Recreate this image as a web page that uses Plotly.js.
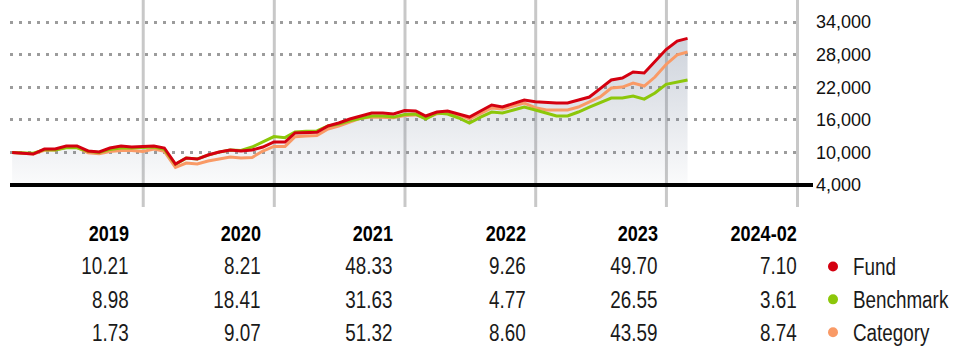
<!DOCTYPE html>
<html>
<head>
<meta charset="utf-8">
<script src="https://cdn.plot.ly/plotly-3.0.1.min.js"></script>
<style>
  html, body { margin: 0; padding: 0; background: #fff; }
  #chart { width: 953px; height: 354px; }
  /* emulate a narrow face (Arial Narrow-like) for the table and legend text */
  #chart .annotation-text, #chart .legendtext {
    transform-box: fill-box;
    transform: scaleX(0.82);
  }
  #chart .annotation-text { transform-origin: 100% 50%; }
  #chart .legendtext { transform-origin: 0% 50%; }
</style>
</head>
<body>
<div id="chart"></div>
<script>
// ---------- DATA ----------
const dates = [
  '2018-12-31',
  '2019-01-31','2019-02-28','2019-03-31','2019-04-30','2019-05-31','2019-06-30',
  '2019-07-31','2019-08-31','2019-09-30','2019-10-31','2019-11-30','2019-12-31',
  '2020-01-31','2020-02-29','2020-03-31','2020-04-30','2020-05-31','2020-06-30',
  '2020-07-31','2020-08-31','2020-09-30','2020-10-31','2020-11-30','2020-12-31',
  '2021-01-31','2021-02-28','2021-03-31','2021-04-30','2021-05-31','2021-06-30',
  '2021-07-31','2021-08-31','2021-09-30','2021-10-31','2021-11-30','2021-12-31',
  '2022-01-31','2022-02-28','2022-03-31','2022-04-30','2022-05-31','2022-06-30',
  '2022-07-31','2022-08-31','2022-09-30','2022-10-31','2022-11-30','2022-12-31',
  '2023-01-31','2023-02-28','2023-03-31','2023-04-30','2023-05-31','2023-06-30',
  '2023-07-31','2023-08-31','2023-09-30','2023-10-31','2023-11-30','2023-12-31',
  '2024-01-31','2024-02-29'
];

const fundGrowth = [
  10000,
  9890, 9700, 10620, 10620, 11180, 11180, 10260, 10070, 10810, 11180, 10990, 11021,
  11180, 10810, 7850, 8970, 8780, 9520, 10070, 10440, 10260, 10440, 10990, 11926,
  11910, 13570, 13570, 13700, 14860, 15410, 16140, 16700, 17250, 17250, 17060, 17690,
  17620, 16700, 17430, 17620, 17060, 16510, 17620, 18720, 18350, 19000, 19640, 19328,
  19180, 19090, 19090, 19640, 20190, 21750, 23320, 23690, 24790, 24610, 26820, 28934,
  30500, 30988
];

const benchmarkGrowth = [
  10000,
  9950, 9850, 10500, 10450, 10850, 10850, 10200, 10000, 10550, 10800, 10800, 10898,
  11000, 10550, 7800, 8950, 8800, 9500, 10050, 10450, 10350, 10990, 11900, 12904,
  12720, 13750, 13900, 13950, 14860, 15200, 15800, 16250, 16700, 16700, 16500, 16986,
  17050, 16140, 17250, 17060, 16330, 15410, 16500, 17430, 17250, 17800, 18360, 17796,
  17250, 16700, 16700, 17430, 18350, 19090, 20000, 20000, 20380, 19800, 20930, 22521,
  22950, 23334
];

const categoryGrowth = [
  10000,
  9850, 9700, 10400, 10450, 10950, 10900, 9950, 9750, 10150, 10350, 10350, 10173,
  10600, 10200, 7250, 8050, 7860, 8420, 8780, 9150, 8970, 9060, 10260, 11096,
  11100, 12900, 13000, 13100, 14300, 14860, 15600, 16300, 16500, 16500, 16400, 16790,
  16900, 16300, 17100, 17250, 16900, 16140, 17200, 18170, 18000, 18500, 19090, 18234,
  17800, 17800, 17800, 18350, 19270, 20200, 21840, 22030, 22770, 22210, 23870, 26182,
  27950, 28470
];

const yTickVals = [4000, 10000, 16000, 22000, 28000, 34000];
const yearLines = ['2020-01-01','2021-01-01','2022-01-01','2023-01-01','2024-01-01','2025-01-01'];

const periods = ['2019', '2020', '2021', '2022', '2023', '2024-02'];
const fundReturns = [10.21, 8.21, 48.33, 9.26, 49.70, 7.10];
const benchmarkReturns = [8.98, 18.41, 31.63, 4.77, 26.55, 3.61];
const categoryReturns = [1.73, 9.07, 51.32, 8.60, 43.59, 8.74];

const seriesNames = ['Fund', 'Benchmark', 'Category'];
const seriesColors = ['#d40010', '#8cc70a', '#f99a66'];

// ---------- LAYOUT HELPERS ----------
const W = 953, H = 354;
const M = { l: 10, r: 153, t: 0, b: 167, autoexpand: false };
const plotW = W - M.l - M.r;
const plotH = H - M.t - M.b;          // 187 px; value 4000 sits 2 px above the bottom
const pxPerUnit = 185 / (38050 - 4000);
const yMin = 4000 - 2 / pxPerUnit;
const px2x = px => (px - M.l) / plotW;
const py2y = py => (plotH - (py - M.t)) / plotH;

const textFont = "'Liberation Sans', Arial, sans-serif";

// ---------- TRACES ----------
const traces = [];

// gradient fill under fund line
traces.push({
  x: dates, y: fundGrowth, type: 'scatter', mode: 'lines',
  line: { width: 0, color: 'rgba(0,0,0,0)' },
  fill: 'tozeroy',
  fillgradient: {
    type: 'vertical', start: 4000, stop: 31000,
    colorscale: [[0, 'rgba(110,125,150,0.03)'], [1, 'rgba(110,125,150,0.34)']]
  },
  hoverinfo: 'skip', showlegend: false
});

const lineSeries = [categoryGrowth, benchmarkGrowth, fundGrowth];
const lineColors = [seriesColors[2], seriesColors[1], seriesColors[0]];
lineSeries.forEach((ys, k) => {
  traces.push({
    x: dates, y: ys, type: 'scatter', mode: 'lines',
    line: { color: lineColors[k], width: 3 },
    showlegend: false, hoverinfo: 'x+y'
  });
});

// legend entries (dots)
seriesNames.forEach((nm, k) => {
  traces.push({
    x: [null], y: [null], type: 'scatter', mode: 'markers',
    name: nm, legendgroup: nm,
    marker: { color: seriesColors[k], size: 10 },
    showlegend: true
  });
});

// ---------- SHAPES ----------
const shapes = yearLines.map(d => ({
  type: 'line', xref: 'x', yref: 'paper',
  x0: d, x1: d, y0: -20 / plotH, y1: 1,
  line: { color: '#c8c8c8', width: 3 }, layer: 'below'
}));
shapes.push({
  type: 'line', xref: 'paper', yref: 'y',
  x0: 0, x1: px2x(813), y0: 4000, y1: 4000,
  line: { color: '#000', width: 4 }, layer: 'above'
});

// ---------- TABLE ANNOTATIONS ----------
const colRight = [130, 262, 394, 527, 659, 798];
const rowY = [266, 300, 333];
const annotations = [];
periods.forEach((p, c) => {
  annotations.push({
    xref: 'paper', yref: 'paper', x: px2x(colRight[c] + 1), y: py2y(233),
    xanchor: 'right', yanchor: 'middle', showarrow: false,
    text: p, font: { family: textFont, size: 22, color: '#000', weight: 700 }
  });
});
[fundReturns, benchmarkReturns, categoryReturns].forEach((arr, r) => {
  arr.forEach((v, c) => {
    annotations.push({
      xref: 'paper', yref: 'paper', x: px2x(colRight[c] + 1), y: py2y(rowY[r]),
      xanchor: 'right', yanchor: 'middle', showarrow: false,
      text: v.toFixed(2), font: { family: textFont, size: 23, color: '#1a1a1a' }
    });
  });
});

const layout = {
  width: W, height: H,
  margin: M,
  paper_bgcolor: '#fff', plot_bgcolor: '#fff',
  showlegend: true,
  legend: {
    x: px2x(813), y: py2y(245), xanchor: 'left', yanchor: 'top',
    font: { family: textFont, size: 23, color: '#1a1a1a' },
    traceorder: 'grouped', tracegroupgap: 0,
    bgcolor: 'rgba(0,0,0,0)', borderwidth: 0, itemwidth: 30
  },
  xaxis: {
    type: 'date', range: ['2018-12-25', '2025-01-08'],
    showgrid: false, zeroline: false, showline: false,
    showticklabels: false, ticks: '', fixedrange: true
  },
  yaxis: {
    side: 'right', range: [yMin, 38050],
    tickmode: 'array', tickvals: yTickVals, tickformat: ',',
    showgrid: true, gridcolor: '#9c9c9c', gridwidth: 3, griddash: '3px,6px',
    zeroline: false, showline: false, ticks: '',
    ticklabelstandoff: 15,
    tickfont: { family: textFont, size: 18, color: '#111' },
    fixedrange: true
  },
  shapes: shapes,
  annotations: annotations,
  hovermode: false
};

Plotly.newPlot('chart', traces, layout, { displayModeBar: false, staticPlot: true });
</script>
</body>
</html>
